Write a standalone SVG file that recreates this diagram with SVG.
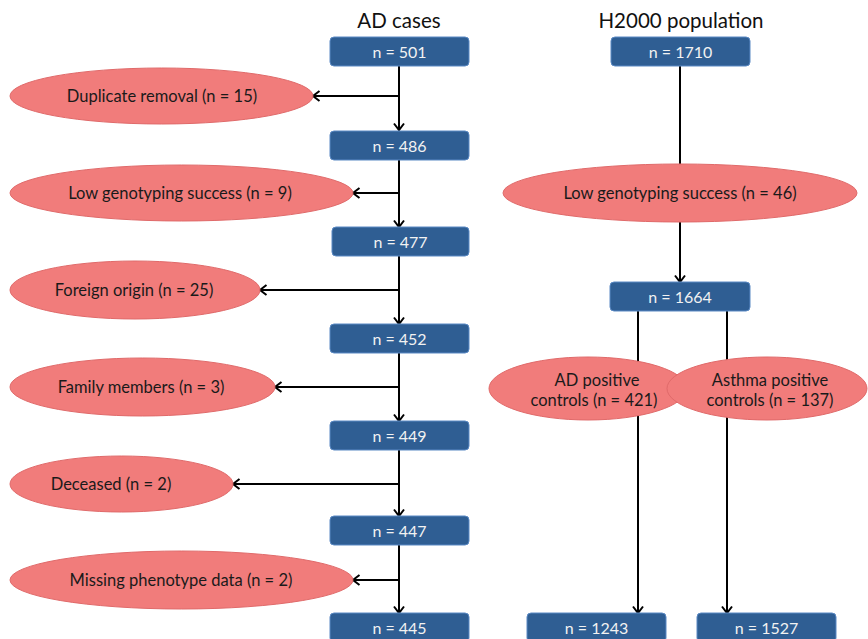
<svg xmlns="http://www.w3.org/2000/svg" width="868" height="639" viewBox="0 0 868 639">
<style>
.title{font-family:Lato,"Liberation Sans",sans-serif;font-size:20.5px;fill:#111;text-anchor:middle}
.box rect{fill:#2f5e93;stroke:#5a89c4;stroke-width:1}
.box text{font-family:Lato,"Liberation Sans",sans-serif;font-size:16px;fill:#f2f2f2;text-anchor:middle}
.ell ellipse{fill:#f17c7b;stroke:#e06a6a;stroke-width:1}
.ell text{font-family:Lato,"Liberation Sans",sans-serif;font-size:16.5px;fill:#1a1a1a;text-anchor:middle}
.conn line{stroke:#000;stroke-width:2;fill:none}
</style>
<defs>
<marker id="arr" viewBox="0 0 12 12" refX="10.5" refY="6" markerWidth="12" markerHeight="12" markerUnits="userSpaceOnUse" orient="auto">
<path d="M4,1 L10.5,6 L4,11" fill="none" stroke="#000" stroke-width="2"/>
</marker>
</defs>
<rect width="868" height="639" fill="#fff"/>
<text class="title" x="399" y="28">AD cases</text>
<text class="title" x="681" y="28">H2000 population</text>

<g id="connectors" class="conn">
<line x1="399" y1="66" x2="399" y2="130" marker-end="url(#arr)"/>
<line x1="399" y1="160" x2="399" y2="227" marker-end="url(#arr)"/>
<line x1="399" y1="256" x2="399" y2="324" marker-end="url(#arr)"/>
<line x1="399" y1="353" x2="399" y2="421" marker-end="url(#arr)"/>
<line x1="399" y1="450" x2="399" y2="516" marker-end="url(#arr)"/>
<line x1="399" y1="545" x2="399" y2="613" marker-end="url(#arr)"/>
<line x1="399" y1="96" x2="313" y2="96" marker-end="url(#arr)"/>
<line x1="399" y1="193" x2="353" y2="193" marker-end="url(#arr)"/>
<line x1="399" y1="290" x2="260" y2="290" marker-end="url(#arr)"/>
<line x1="399" y1="387" x2="275" y2="387" marker-end="url(#arr)"/>
<line x1="399" y1="484" x2="233" y2="484" marker-end="url(#arr)"/>
<line x1="399" y1="580" x2="353" y2="580" marker-end="url(#arr)"/>
<line x1="680" y1="66" x2="680" y2="164"/>
<line x1="680" y1="222" x2="680" y2="282" marker-end="url(#arr)"/>
<line x1="638" y1="311" x2="638" y2="613" marker-end="url(#arr)"/>
<line x1="727" y1="311" x2="727" y2="613" marker-end="url(#arr)"/>
</g>

<g id="n501" class="box"><rect x="330" y="37" width="139" height="29" rx="4"/><text x="399.5" y="58">n = 501</text></g>
<g id="n486" class="box"><rect x="330" y="131" width="139" height="29" rx="4"/><text x="399.5" y="152">n = 486</text></g>
<g id="n477" class="box"><rect x="332" y="227" width="137" height="29" rx="4"/><text x="400.5" y="248">n = 477</text></g>
<g id="n452" class="box"><rect x="330" y="324" width="139" height="29" rx="4"/><text x="399.5" y="345">n = 452</text></g>
<g id="n449" class="box"><rect x="330" y="421" width="139" height="29" rx="4"/><text x="399.5" y="442">n = 449</text></g>
<g id="n447" class="box"><rect x="330" y="516" width="139" height="29" rx="4"/><text x="399.5" y="537">n = 447</text></g>
<g id="n445" class="box"><rect x="330" y="613" width="139" height="29" rx="4"/><text x="399.5" y="634">n = 445</text></g>
<g id="n1710" class="box"><rect x="611" y="37" width="139" height="29" rx="4"/><text x="680.5" y="58">n = 1710</text></g>
<g id="n1664" class="box"><rect x="610" y="282" width="140" height="29" rx="4"/><text x="680" y="303">n = 1664</text></g>
<g id="n1243" class="box"><rect x="527" y="613" width="139" height="29" rx="4"/><text x="596.5" y="634">n = 1243</text></g>
<g id="n1527" class="box"><rect x="697" y="613" width="139" height="29" rx="4"/><text x="766.5" y="634">n = 1527</text></g>

<g id="dup" class="ell"><ellipse cx="161.5" cy="96" rx="151.5" ry="28"/><text x="162" y="102">Duplicate removal (n = 15)</text></g>
<g id="lowgeno" class="ell"><ellipse cx="181.5" cy="193" rx="171.5" ry="28"/><text x="180" y="199">Low genotyping success (n = 9)</text></g>
<g id="foreign" class="ell"><ellipse cx="135" cy="290" rx="125" ry="29"/><text x="134" y="296">Foreign origin (n = 25)</text></g>
<g id="family" class="ell"><ellipse cx="142.5" cy="387" rx="132.5" ry="29"/><text x="141" y="393">Family members (n = 3)</text></g>
<g id="deceased" class="ell"><ellipse cx="121.5" cy="484" rx="111.5" ry="28"/><text x="111" y="490">Deceased (n = 2)</text></g>
<g id="missing" class="ell"><ellipse cx="181.5" cy="580" rx="171.5" ry="29"/><text x="181" y="586">Missing phenotype data (n = 2)</text></g>
<g id="lowgeno46" class="ell"><ellipse cx="680" cy="193" rx="177" ry="29"/><text x="680" y="199">Low genotyping success (n = 46)</text></g>
<g id="adpos" class="ell"><ellipse cx="588" cy="388.5" rx="99" ry="31.5"/><text x="597" y="386">AD positive</text><text x="594" y="406">controls (n = 421)</text></g>
<g id="asthma" class="ell"><ellipse cx="767" cy="388.5" rx="100" ry="31.5"/><text x="770" y="386">Asthma positive</text><text x="770" y="406">controls (n = 137)</text></g>
</svg>
